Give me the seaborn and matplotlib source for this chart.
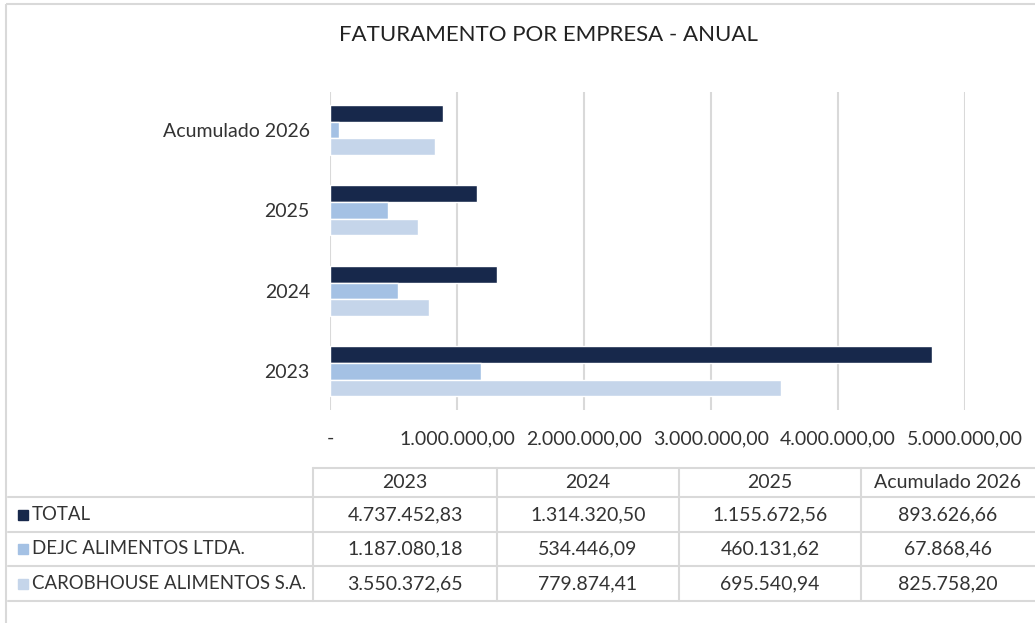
import numpy as np
import pandas as pd
import seaborn as sns
import matplotlib.pyplot as plt
from matplotlib.patches import Rectangle

periods = ["2023", "2024", "2025", "Acumulado 2026"]
companies = ["TOTAL", "DEJC ALIMENTOS LTDA.", "CAROBHOUSE ALIMENTOS S.A."]
total = [4737452.83, 1314320.50, 1155672.56, 893626.66]
dejc = [1187080.18, 534446.09, 460131.62, 67868.46]
carobhouse = [3550372.65, 779874.41, 695540.94, 825758.20]
colors = ["#17284b", "#a4c1e4", "#c5d5ea"]
x_ticks = [0, 1e6, 2e6, 3e6, 4e6, 5e6]


def brl(v):
    s = f"{v:,.2f}"
    return s.replace(",", "X").replace(".", ",").replace("X", ".")


df = pd.DataFrame({
    "periodo": periods * 3,
    "empresa": np.repeat(companies, len(periods)),
    "valor": total + dejc + carobhouse,
})

sns.set_theme(style="white")
plt.rcParams["font.family"] = ["Lato", "DejaVu Sans"]
text_color = "#333333"
line_color = "#d9d9d9"

W, H = 1035, 623
fig = plt.figure(figsize=(W / 100, H / 100), dpi=100)

# overlay in pixel coords for frame + data table
tab = fig.add_axes([0, 0, 1, 1])
tab.set_xlim(0, W)
tab.set_ylim(H, 0)
tab.axis("off")
tab.add_patch(Rectangle((6, 4), W + 20, H + 20, fill=False, ec=line_color, lw=1.5))

row_y = [468, 497, 532, 566, 601]
col_x = [313, 497, 679, 861, W]
tab.plot([col_x[0], W], [row_y[0]] * 2, color=line_color, lw=1.5)
for y in row_y[1:]:
    tab.plot([8, W], [y, y], color=line_color, lw=1.5)
for x in col_x[:-1]:
    tab.plot([x, x], [row_y[0], row_y[-1]], color=line_color, lw=1.5)

fs = 14
for j, p in enumerate(periods):
    cx = (col_x[j] + col_x[j + 1]) / 2
    tab.text(cx, (row_y[0] + row_y[1]) / 2, p, ha="center", va="center",
             fontsize=fs, color=text_color)
for i, (name, vals, c) in enumerate(zip(companies, [total, dejc, carobhouse], colors)):
    cy = (row_y[i + 1] + row_y[i + 2]) / 2
    tab.add_patch(Rectangle((18, cy - 5), 10, 10, color=c))
    tab.text(32, cy, name, ha="left", va="center", fontsize=13.4, color=text_color)
    for j, v in enumerate(vals):
        cx = (col_x[j] + col_x[j + 1]) / 2
        tab.text(cx, cy, brl(v), ha="center", va="center", fontsize=fs, color=text_color)

fig.text(548 / W, 1 - 35 / H, "FATURAMENTO POR EMPRESA - ANUAL", ha="center",
         va="center", fontsize=16, color="#222222")

# bar chart
ax = fig.add_axes([330 / W, 1 - 410 / H, 635 / W, 318 / H])
ax.patch.set_alpha(0)
sns.barplot(data=df, y="periodo", x="valor", hue="empresa", order=periods[::-1],
            hue_order=companies, palette=colors, orient="h", width=0.62,
            saturation=1, legend=False, ax=ax)
ax.set_xlim(0, 5e6)
ax.set_ylim(3.48, -0.47)
ax.set_xticks(x_ticks)
ax.set_xticklabels(["-"] + [brl(v) for v in x_ticks[1:]])
ax.xaxis.grid(True, color=line_color, lw=1.5)
ax.set_axisbelow(True)
for s in ax.spines.values():
    s.set_visible(False)
ax.set_xlabel("")
ax.set_ylabel("")
ax.tick_params(axis="x", length=0, pad=14.5, labelsize=fs, labelcolor=text_color)
ax.tick_params(axis="y", length=0, pad=14.5, labelsize=fs, labelcolor=text_color)

fig.savefig("out.png", dpi=100)
